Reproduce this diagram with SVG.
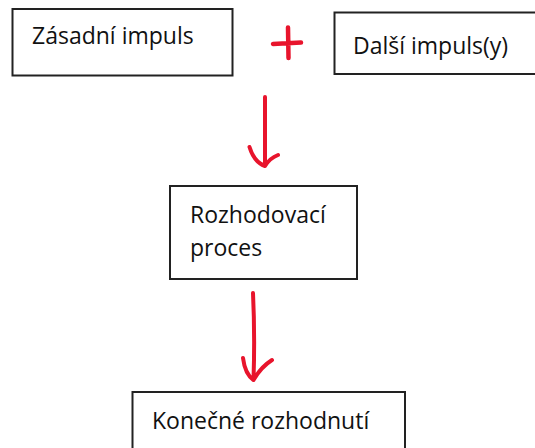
<svg xmlns="http://www.w3.org/2000/svg" width="535" height="448" viewBox="0 0 535 448">
<style>
.box{fill:#fff;stroke:#222;stroke-width:2}
.t{font-family:"Open Sans","Liberation Sans",sans-serif;font-size:23px;fill:#111}
.red{fill:none;stroke:#e8142c;stroke-width:4;stroke-linecap:round;stroke-linejoin:round}
</style>
<rect width="535" height="448" fill="#fff"/>
<g id="zasadni">
<rect class="box" x="12.5" y="9" width="220" height="66.5"/>
<text class="t" x="32" y="43.5">Zásadní impuls</text>
</g>
<g id="plus">
<path class="red" d="M273,44 L301,42.5 M288,27.5 L288.5,58" style="stroke-width:4.5"/>
</g>
<g id="dalsi">
<rect class="box" x="334.5" y="12.5" width="210" height="61.5"/>
<text class="t" x="353" y="54">Další impuls(y)</text>
</g>
<g id="proces">
<rect class="box" x="170" y="186" width="187" height="93"/>
<text class="t" x="190" y="222.5">Rozhodovací</text>
<text class="t" x="190" y="256">proces</text>
</g>
<g id="rozhodnuti">
<rect class="box" x="132.5" y="392" width="272.5" height="70"/>
<text class="t" x="152" y="428.5">Konečné rozhodnutí</text>
</g>
<g id="connectors">
<path class="red" d="M265,97 L265,166 M249.5,147 Q254,162 265,166 Q270,158 278,155"/>
<path class="red" d="M253,293 Q255,335 253.5,380 M243,358 Q245,374 253.5,380 Q261,367 272,360"/>
</g>
</svg>
